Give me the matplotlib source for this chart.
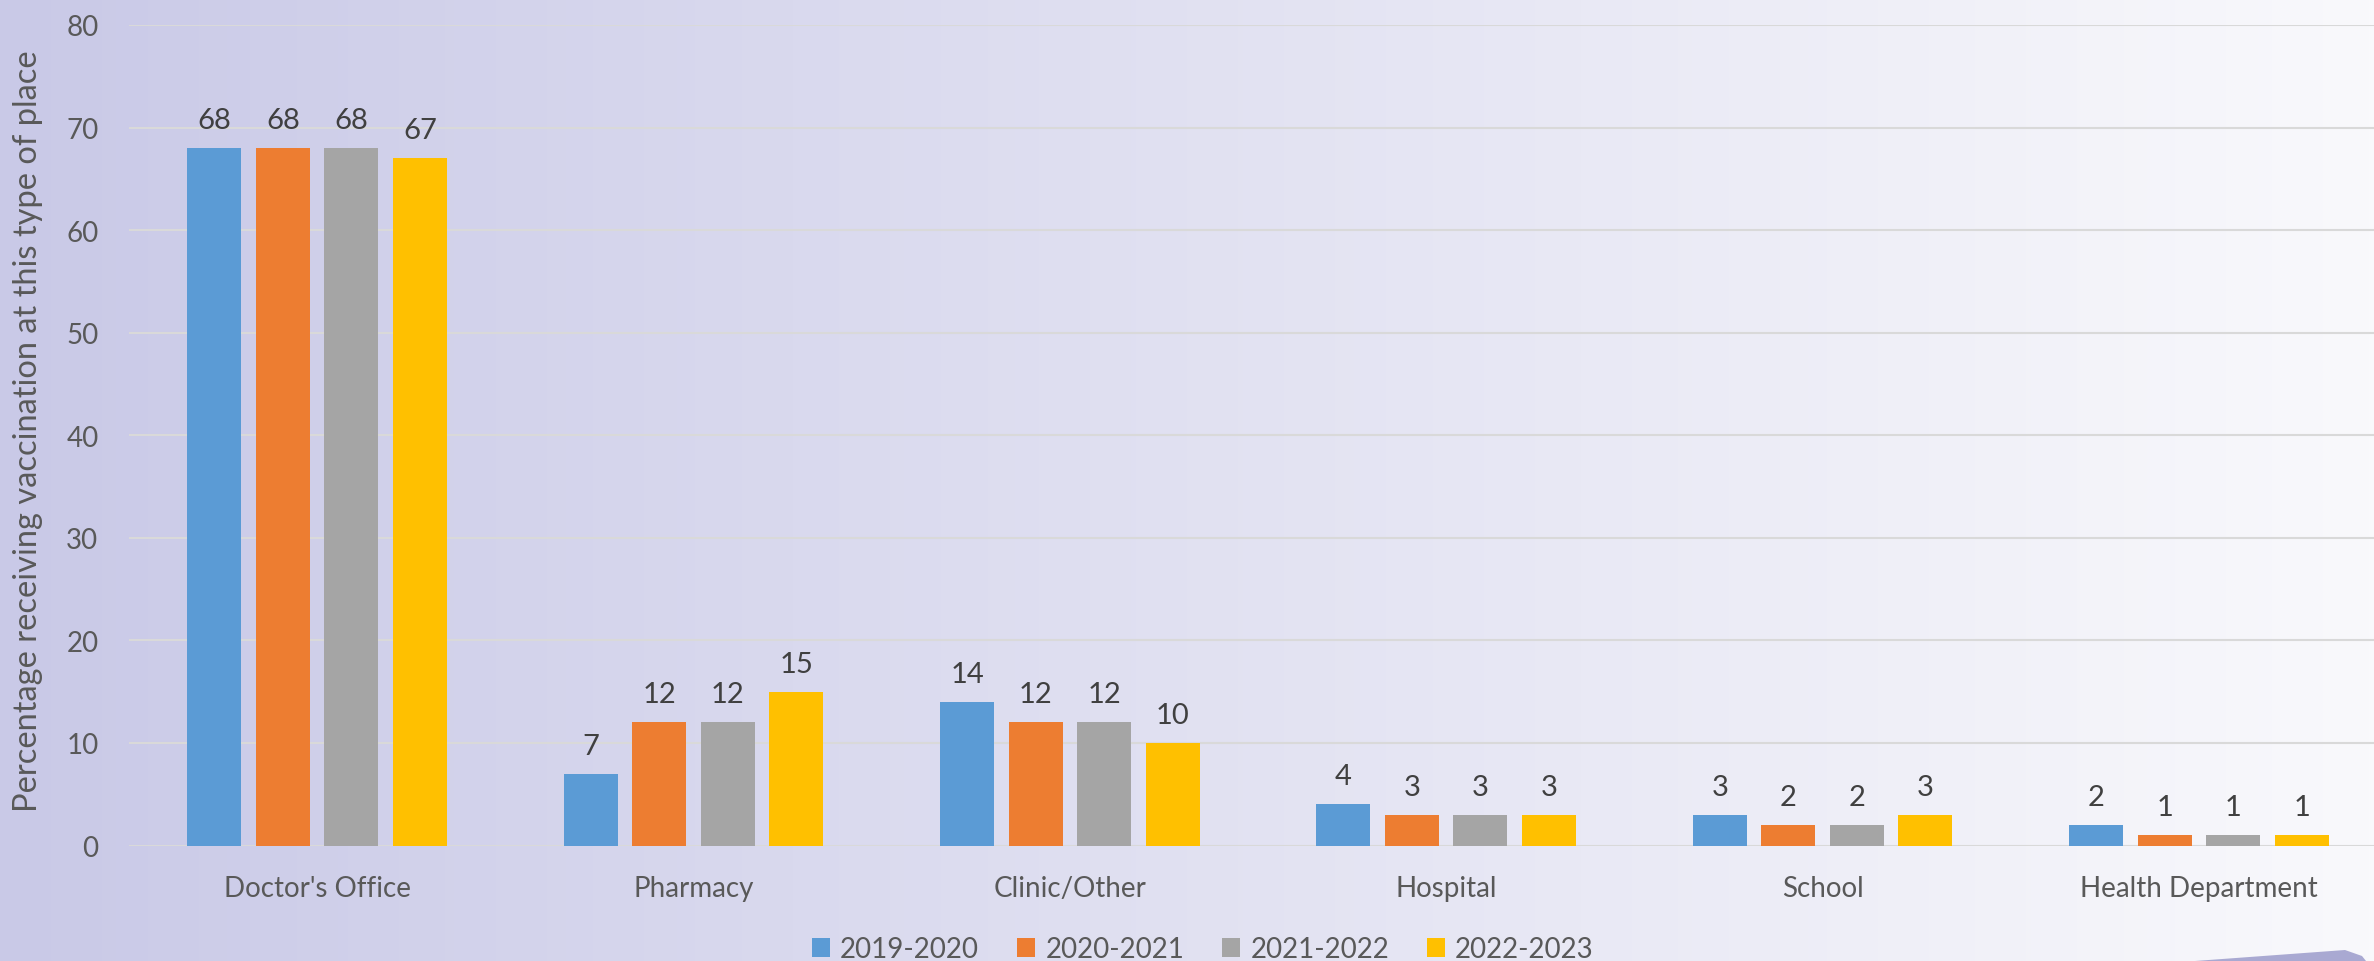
import numpy as np
import matplotlib
matplotlib.use("Agg")
import matplotlib.pyplot as plt
from matplotlib.patches import Polygon, Patch

categories = ["Doctor's Office", "Pharmacy", "Clinic/Other", "Hospital", "School", "Health Department"]
series_names = ["2019-2020", "2020-2021", "2021-2022", "2022-2023"]
v_2019_2020 = [68, 7, 14, 4, 3, 2]
v_2020_2021 = [68, 12, 12, 3, 2, 1]
v_2021_2022 = [68, 12, 12, 3, 2, 1]
v_2022_2023 = [67, 15, 10, 3, 3, 1]
y_ticks = [0, 10, 20, 30, 40, 50, 60, 70, 80]
y_label = "Percentage receiving vaccination at this type of place"

series_values = [v_2019_2020, v_2020_2021, v_2021_2022, v_2022_2023]
colors = ["#5B9BD5", "#ED7D31", "#A5A5A5", "#FFC000"]

plt.rcParams['font.family'] = ['Lato', 'DejaVu Sans']

W, H = 2374, 962
fig = plt.figure(figsize=(W / 100, H / 100), dpi=100)

# background gradient
bg = fig.add_axes([0, 0, 1, 1], zorder=-10)
bg.set_axis_off()
left_c = np.array([201, 201, 231]) / 255.0
right_c = np.array([249, 249, 252]) / 255.0
t = np.linspace(0, 1, 512)[None, :, None]
grad = left_c[None, None, :] * (1 - t) + right_c[None, None, :] * t
grad = np.repeat(grad, 4, axis=0)
bg.imshow(grad, aspect='auto', extent=[0, 1, 0, 1], origin='lower')
bg.set_xlim(0, 1)
bg.set_ylim(0, 1)
# decorative sliver bottom right
pts_px = [(2195, 962), (2345, 951), (2362, 957), (2366, 962)]
bg.add_patch(Polygon([[px / W, (H - py) / H] for px, py in pts_px],
                     closed=True, facecolor="#A9A9D2", edgecolor='none'))

x0_px, x1_px = 129, 2387
y0_px, y80_px = 846.5, 26
ax = fig.add_axes([x0_px / W, (H - y0_px) / H, (x1_px - x0_px) / W, (y0_px - y80_px) / H])
ax.set_facecolor('none')

x = np.arange(len(categories))
pitch = 0.182
width = 0.1435
for i, (vals, c, name) in enumerate(zip(series_values, colors, series_names)):
    pos = x + (i - 1.5) * pitch
    ax.bar(pos, vals, width=width, color=c, label=name, zorder=3)
    for xb, v in zip(pos, vals):
        ax.annotate(str(v), xy=(xb, v), xytext=(0, 14.5), textcoords='offset points',
                    ha='center', va='baseline', fontsize=21, color='#404040', zorder=4)

ax.set_xlim(-0.5, len(categories) - 0.5)
ax.set_ylim(0, 80)
ax.set_yticks(y_ticks)
ax.set_xticks(x)
ax.set_xticklabels(categories)
ax.tick_params(axis='both', length=0, labelsize=20, labelcolor='#595959')
ax.tick_params(axis='y', pad=22)
ax.tick_params(axis='x', pad=21)
ax.grid(axis='y', color='#D9D9D9', linewidth=1.5, zorder=0)
for s in ax.spines.values():
    s.set_visible(False)

fig.text(28 / W, (H - 431) / H, y_label, rotation=90, ha='center', va='center',
         fontsize=23.5, color='#595959')

handles = [Patch(facecolor=c, edgecolor='none', label=n) for c, n in zip(colors, series_names)]
fig.legend(handles=handles, loc='center', bbox_to_anchor=(1203 / W, 12 / H), ncol=4, frameon=False,
           fontsize=20, labelcolor='#595959', handlelength=0.65, handleheight=0.65,
           handletextpad=0.36, columnspacing=1.37, borderpad=0, borderaxespad=0)

fig.savefig("out.png", dpi=100)
